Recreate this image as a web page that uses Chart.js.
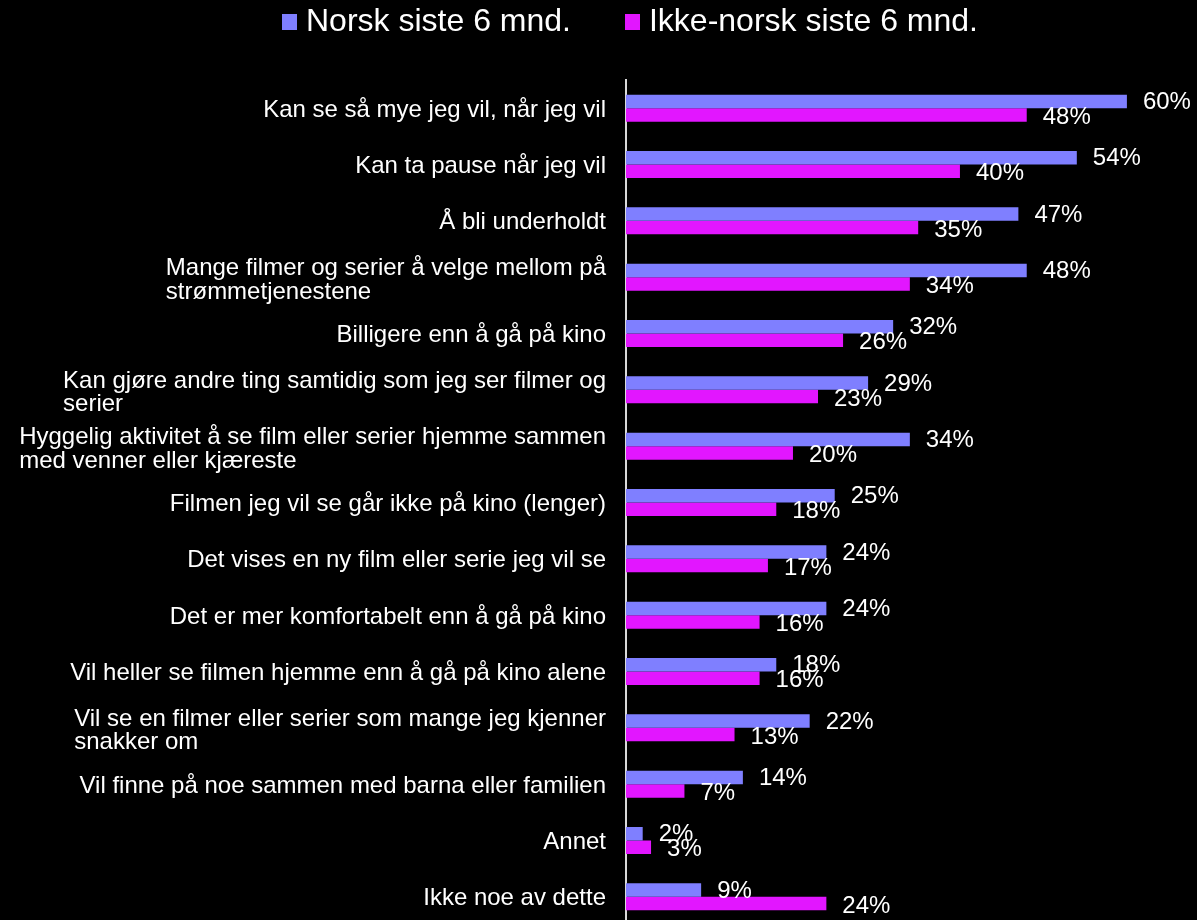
<!DOCTYPE html>
<html>
<head>
<meta charset="utf-8">
<script src="https://cdn.jsdelivr.net/npm/chart.js@4"></script>
<style>
  html, body { margin: 0; padding: 0; background: #000; overflow: hidden; }
  #wrap { position: relative; width: 1197px; height: 920px; overflow: hidden; }
  #legend { position: absolute; left: 282px; top: 2px; display: flex; align-items: center;
            font-family: "Liberation Sans", Arial, sans-serif; font-size: 32px; color: #fff; }
  .item { display: flex; align-items: center; }
  .box { width: 15px; height: 16px; margin-right: 9px; margin-top: 3px; }
</style>
</head>
<body>
<div id="wrap">
  <canvas id="motiver" width="1197" height="925"></canvas>
  <div id="legend"></div>
</div>
<script>
var categories = [
    'Kan se så mye jeg vil, når jeg vil',
    'Kan ta pause når jeg vil',
    'Å bli underholdt',
    ['Mange filmer og serier å velge mellom på', 'strømmetjenestene'],
    'Billigere enn å gå på kino',
    ['Kan gjøre andre ting samtidig som jeg ser filmer og', 'serier'],
    ['Hyggelig aktivitet å se film eller serier hjemme sammen', 'med venner eller kjæreste'],
    'Filmen jeg vil se går ikke på kino (lenger)',
    'Det vises en ny film eller serie jeg vil se',
    'Det er mer komfortabelt enn å gå på kino',
    'Vil heller se filmen hjemme enn å gå på kino alene',
    ['Vil se en filmer eller serier som mange jeg kjenner', 'snakker om'],
    'Vil finne på noe sammen med barna eller familien',
    'Annet',
    'Ikke noe av dette'
];
var seriesNames = ['Norsk siste 6 mnd.', 'Ikke-norsk siste 6 mnd.'];
var norsk = [60, 54, 47, 48, 32, 29, 34, 25, 24, 24, 18, 22, 14, 2, 9];
var ikkeNorsk = [48, 40, 35, 34, 26, 23, 20, 18, 17, 16, 16, 13, 7, 3, 24];
var colors = ['#7F7FFF', '#E216FF'];

var FONT = '"Liberation Sans", Arial, sans-serif';

// legend (html)
var legend = document.getElementById('legend');
seriesNames.forEach(function (name, i) {
    var item = document.createElement('div');
    item.className = 'item';
    if (i > 0) item.style.marginLeft = '54px';
    var box = document.createElement('span');
    box.className = 'box';
    box.style.background = colors[i];
    var txt = document.createElement('span');
    txt.textContent = name;
    item.appendChild(box);
    item.appendChild(txt);
    legend.appendChild(item);
});

// left labels: block right aligned, lines left aligned
var categoryLabels = {
    id: 'categoryLabels',
    afterDraw: function (chart) {
        var ctx = chart.ctx;
        var y = chart.scales.y;
        var lh = 23.5;
        ctx.save();
        ctx.font = '24px ' + FONT;
        ctx.fillStyle = '#fff';
        ctx.textBaseline = 'middle';
        ctx.textAlign = 'left';
        categories.forEach(function (c, i) {
            var lines = Array.isArray(c) ? c : [c];
            var w = 0;
            lines.forEach(function (l) { w = Math.max(w, ctx.measureText(l).width); });
            var x = chart.chartArea.left - 20 - w;
            var cy = y.getPixelForTick(i) + 2 - (lines.length - 1) * lh / 2 + (lines.length > 1 ? 1 : 0);
            lines.forEach(function (l, k) { ctx.fillText(l, x, cy + k * lh); });
        });
        ctx.restore();
    }
};

// value labels at bar ends
var valueLabels = {
    id: 'valueLabels',
    afterDatasetsDraw: function (chart) {
        var ctx = chart.ctx;
        ctx.save();
        ctx.font = '24px ' + FONT;
        ctx.fillStyle = '#fff';
        ctx.textBaseline = 'middle';
        ctx.textAlign = 'left';
        chart.data.datasets.forEach(function (ds, d) {
            chart.getDatasetMeta(d).data.forEach(function (bar, i) {
                ctx.fillText(ds.data[i] + '%', bar.x + 16, bar.y + (d === 0 ? 1 : 2.5));
            });
        });
        ctx.restore();
    }
};

var motiver = new Chart(document.getElementById('motiver').getContext('2d'), {
    type: 'bar',
    data: {
        labels: categories,
        datasets: [{
            label: seriesNames[0],
            data: norsk,
            backgroundColor: colors[0],
            categoryPercentage: 0.48,
            barPercentage: 1
        }, {
            label: seriesNames[1],
            data: ikkeNorsk,
            backgroundColor: colors[1],
            categoryPercentage: 0.48,
            barPercentage: 1
        }]
    },
    options: {
        indexAxis: 'y',
        responsive: false,
        animation: false,
        layout: { padding: { top: 80, right: 20, bottom: 0, left: 0 } },
        plugins: {
            legend: { display: false },
            tooltip: { enabled: false }
        },
        scales: {
            x: { display: false, min: 0, max: 66 },
            y: {
                grid: { display: false },
                border: { display: true, color: '#D9D9D9', width: 2 },
                ticks: { display: false },
                afterFit: function (scale) { scale.width = 626; }
            }
        }
    },
    plugins: [categoryLabels, valueLabels]
});
</script>
</body>
</html>
